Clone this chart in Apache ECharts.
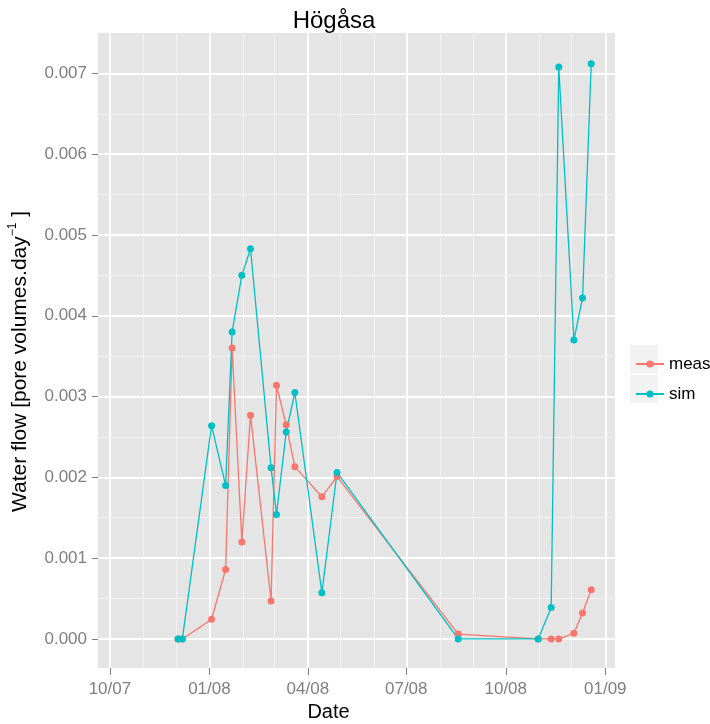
<!DOCTYPE html>
<html>
<head>
<meta charset="utf-8">
<script src="https://cdn.jsdelivr.net/npm/echarts@6/dist/echarts.min.js"></script>
<style>
  html, body { margin: 0; padding: 0; background: #fff; }
  #chart { width: 710px; height: 724px; }
</style>
</head>
<body>
<div id="chart"></div>
<script>
// sampling dates and values
const dates = ["2007-12-03", "2007-12-07", "2008-01-03", "2008-01-16", "2008-01-22",
  "2008-01-31", "2008-02-08", "2008-02-27", "2008-03-03", "2008-03-12", "2008-03-20",
  "2008-04-14", "2008-04-28", "2008-08-18", "2008-10-31", "2008-11-12", "2008-11-19",
  "2008-12-03", "2008-12-11", "2008-12-19"];
const meas = [0, 0, 0.000244, 0.00086, 0.0036, 0.0012, 0.00277, 0.00047, 0.00314, 0.00265,
  0.00213, 0.00176, 0.00201, 0.00006, 0, 0, 0, 0.00007, 0.00032, 0.00061];
const sim = [0, 0, 0.00264, 0.0019, 0.0038, 0.0045, 0.00483, 0.00212, 0.00154, 0.00256,
  0.00305, 0.00057, 0.00206, 0, 0, 0.00039, 0.00708, 0.0037, 0.00422, 0.00712];

const xTicks = ["2007-10-01", "2008-01-01", "2008-04-01", "2008-07-01", "2008-10-01", "2009-01-01"];
const xMinorTicks = ["2007-11-01", "2007-12-01", "2008-02-01", "2008-03-01", "2008-05-01",
  "2008-06-01", "2008-08-01", "2008-09-01", "2008-11-01", "2008-12-01"];
const yTicks = [0, 0.001, 0.002, 0.003, 0.004, 0.005, 0.006, 0.007];
const yMinorTicks = [0.0005, 0.0015, 0.0025, 0.0035, 0.0045, 0.0055, 0.0065];

const ts = s => Date.parse(s + "T00:00:00Z");
const pad = n => (n < 10 ? "0" : "") + n;
const fmtDate = v => {
  const d = new Date(v);
  return pad(d.getUTCMonth() + 1) + "/" + pad(d.getUTCFullYear() % 100);
};

const xMin = ts("2007-09-20");
const xMax = ts("2009-01-10");
const yMin = -0.00036;
const yMax = 0.0075;

const font = "Liberation Sans, Arial, sans-serif";
const myChart = echarts.init(document.getElementById("chart"));

let option = {
  animation: false,
  title: {
    text: "Högåsa",
    left: 329,
    top: 4,
    textAlign: "center",
    textStyle: { fontFamily: font, fontSize: 24, fontWeight: "normal", color: "#000" }
  },
  legend: {
    left: 630,
    top: 345,
    orient: "vertical",
    itemWidth: 28,
    itemHeight: 9,
    itemGap: 2,
    itemStyle: { borderWidth: 0 },
    textStyle: { fontFamily: font, fontSize: 17, color: "#000", lineHeight: 28 },
    data: ["meas", "sim"]
  },
  graphic: [
    { type: "rect", left: 630, top: 345, z: 0, shape: { width: 28, height: 28 }, style: { fill: "#F2F2F2" } },
    { type: "rect", left: 630, top: 375, z: 0, shape: { width: 28, height: 28 }, style: { fill: "#F2F2F2" } }
  ],
  grid: {
    left: 98,
    right: 95,
    top: 33,
    bottom: 56,
    show: true,
    backgroundColor: "#E5E5E5",
    borderWidth: 0,
    outerBoundsMode: "none"
  },
  xAxis: [{
    type: "value",
    min: xMin,
    max: xMax,
    name: "Date",
    nameLocation: "middle",
    nameGap: 29,
    nameTextStyle: { fontFamily: font, fontSize: 20, color: "#000", padding: [0, 56, 0, 0] },
    axisLine: { show: false, onZero: false },
    axisTick: { show: true, length: 7, customValues: xTicks.map(ts), lineStyle: { color: "#7F7F7F" } },
    axisLabel: {
      customValues: xTicks.map(ts),
      formatter: fmtDate,
      margin: 13,
      fontFamily: font, fontSize: 17, color: "#7F7F7F"
    },
    splitLine: { show: true, lineStyle: { color: "#FFFFFF", width: 2 } }
  }, {
    type: "value",
    min: xMin,
    max: xMax,
    position: "bottom",
    axisLine: { show: false, onZero: false },
    axisTick: { show: false, customValues: xMinorTicks.map(ts) },
    axisLabel: { show: false, customValues: xMinorTicks.map(ts) },
    splitLine: { show: true, lineStyle: { color: "#F2F2F2", width: 1 } }
  }],
  yAxis: [{
    type: "value",
    min: yMin,
    max: yMax,
    name: "Water flow [pore volumes.day{sup|−1} ]",
    nameLocation: "middle",
    nameRotate: 90,
    nameGap: 52,
    nameTextStyle: {
      fontFamily: font, fontSize: 21, color: "#000", lineHeight: 27,
      padding: [0, 22, 0, 0],
      rich: { sup: { fontFamily: font, fontSize: 12, color: "#000", verticalAlign: "top", lineHeight: 12 } }
    },
    axisLine: { show: false, onZero: false },
    axisTick: { show: true, length: 6, customValues: yTicks, lineStyle: { color: "#7F7F7F" } },
    axisLabel: {
      customValues: yTicks,
      formatter: v => v.toFixed(3),
      margin: 11,
      fontFamily: font, fontSize: 17, color: "#7F7F7F"
    },
    splitLine: { show: true, lineStyle: { color: "#FFFFFF", width: 2 } }
  }, {
    type: "value",
    min: yMin,
    max: yMax,
    position: "left",
    axisLine: { show: false, onZero: false },
    axisTick: { show: false, customValues: yMinorTicks },
    axisLabel: { show: false, customValues: yMinorTicks },
    splitLine: { show: true, lineStyle: { color: "#F2F2F2", width: 1 } }
  }],
  series: [{
    name: "meas",
    type: "line",
    color: "#F8766D",
    symbol: "circle",
    symbolSize: 7,
    lineStyle: { width: 1.3 },
    data: dates.map((d, i) => [ts(d), meas[i]])
  }, {
    name: "sim",
    type: "line",
    color: "#00BFC4",
    symbol: "circle",
    symbolSize: 7,
    lineStyle: { width: 1.3 },
    data: dates.map((d, i) => [ts(d), sim[i]])
  }]
};

myChart.setOption(option);
</script>
</body>
</html>
